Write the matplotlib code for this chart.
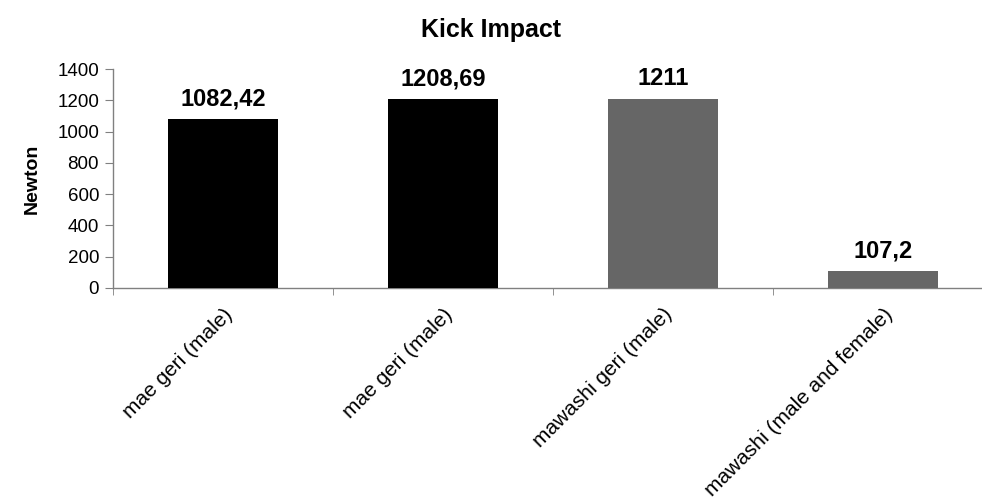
import matplotlib
matplotlib.use("Agg")
import matplotlib.pyplot as plt
import numpy as np

plt.rcParams['font.family'] = ['Liberation Sans', 'DejaVu Sans']

categories = ["mae geri (male)", "mae geri (male)", "mawashi geri (male)", "mawashi (male and female)"]
values = [1082.42, 1208.69, 1211, 107.2]
value_labels = ["1082,42", "1208,69", "1211", "107,2"]
bar_colors = ["#000000", "#000000", "#666666", "#666666"]
yticks = [0, 200, 400, 600, 800, 1000, 1200, 1400]

W, H = 982, 501
fig = plt.figure(figsize=(W / 100, H / 100), dpi=100)
ax = fig.add_axes([113 / W, (H - 288) / H, 880 / W, 219 / H])

x = np.arange(len(categories))
bars = ax.bar(x, values, width=0.5, color=bar_colors, zorder=3)

for b, lab in zip(bars, value_labels):
    ax.annotate(lab, (b.get_x() + b.get_width() / 2, b.get_height()),
                xytext=(0, 6), textcoords="offset points",
                ha="center", va="bottom", fontsize=17, fontweight="bold")

ax.set_xlim(-0.5, len(categories) - 0.5)
ax.set_ylim(0, 1400)
ax.set_yticks(yticks)
ax.set_yticklabels([str(v) for v in yticks], fontsize=13.5)

ax.set_xticks(x)
ax.set_xticklabels(categories, rotation=45, ha="right", va="top",
                   rotation_mode="anchor", fontsize=15)
ax.tick_params(axis="x", which="major", length=0, pad=12)
ax.set_xticks(np.arange(-0.5, len(categories) - 0.5, 1), minor=True)
ax.tick_params(axis="x", which="minor", length=5, direction="out", color="#808080")
ax.tick_params(axis="y", length=6, direction="out", color="#808080", pad=4)

for s in ["top", "right"]:
    ax.spines[s].set_visible(False)
for s in ["left", "bottom"]:
    ax.spines[s].set_color("#808080")
    ax.spines[s].set_linewidth(1.0)

ax.set_ylabel("Newton", fontsize=14, fontweight="bold", labelpad=12)
fig.text(0.5, 1 - 30 / H, "Kick Impact", ha="center", va="center",
         fontsize=18, fontweight="bold")

fig.savefig("out.png", dpi=100)
